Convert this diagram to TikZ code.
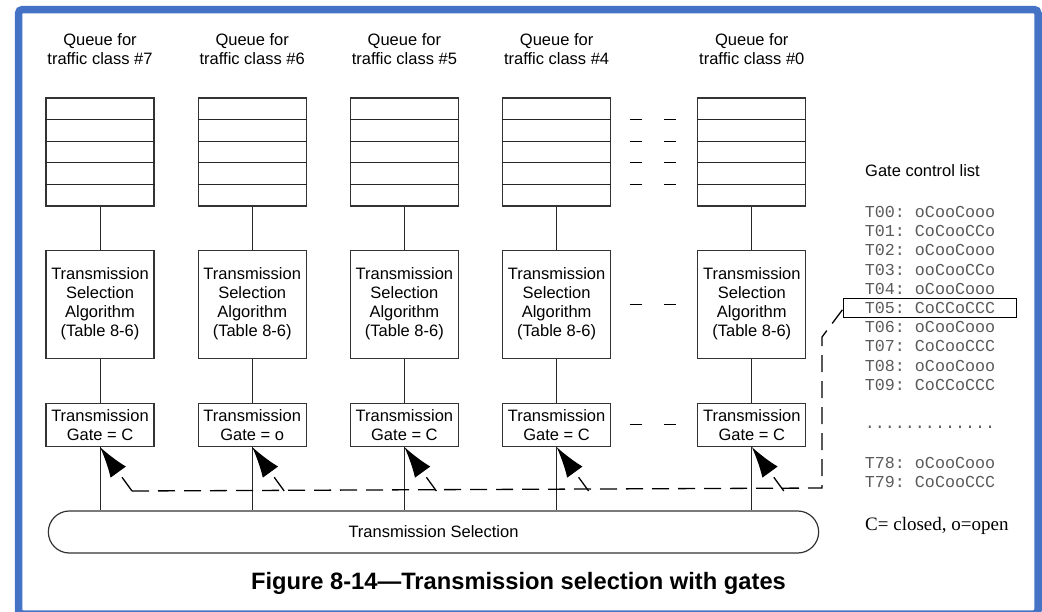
\documentclass[tikz,border=0pt]{standalone}
\usepackage{fontspec}
\setmainfont{Liberation Sans}
\setmonofont{Liberation Mono}
\newfontfamily\legendfont{Liberation Serif}
\usetikzlibrary{arrows.meta,positioning,calc,shapes.misc}
\definecolor{frameblue}{HTML}{4472C4}
\definecolor{listgray}{HTML}{5A5A5A}

\begin{document}
\begin{tikzpicture}[
    x=1pt, y=-1pt,
    node distance=43pt,
    font=\fontsize{16.5}{19}\selectfont,
    >={Latex[length=31pt,width=19pt]},
    box/.style={draw=black!80, line width=1.2pt, minimum width=108pt, inner sep=0pt, align=center},
    queue/.style={box, minimum height=108pt},
    algo/.style={box, minimum height=108pt},
    gatebox/.style={box, minimum height=43pt},
    title/.style={align=center, inner sep=0pt},
    link/.style={draw=black!85, line width=1pt},
    ctrl/.style={line width=1.3pt, dash pattern=on 17pt off 9pt},
    more/.style={line width=1pt, dash pattern=on 12pt off 22pt},
    gcl/.style={font=\ttfamily\fontsize{16.7}{19}\selectfont, text=listgray, minimum width=172pt, minimum height=18pt, inner sep=0pt}
]
    \useasboundingbox (0,0) rectangle (1042,611);
    \draw[frameblue, line width=7.5pt, rounded corners=4pt] (18.5,9.5) rectangle (1038,614);

    % Queues
    \node[queue] (q7) at (100,152) {};
    \node[queue, right=of q7] (q6) {};
    \node[queue, right=of q6] (q5) {};
    \node[queue, right=of q5] (q4) {};
    \node[queue, right=86pt of q4] (q0) {};

    % Columns
    \foreach \c/\s in {7/C,6/o,5/C,4/C,0/C} {
        \foreach \r in {1,...,4}
            \draw[link] ($(q\c.north west)!\r/5!(q\c.south west)$) -- ($(q\c.north east)!\r/5!(q\c.south east)$);
        \node[title, above=33pt of q\c] (t\c) {Queue for\\traffic class \#\c};
        \node[algo, below=43pt of q\c] (a\c) {Transmission\\Selection\\Algorithm\\(Table 8-6)};
        \node[gatebox, below=44pt of a\c] (g\c) {Transmission\\Gate = \s};
        \draw[link] (q\c) -- (a\c);
        \draw[link] (a\c) -- (g\c);
    }

    % Dots between #4 and #0
    \foreach \r in {1,...,4}
        \draw[more] ($(q4.north east)!\r/5!(q4.south east)+(19,0)$) -- ($(q0.north west)!\r/5!(q0.south west)+(-21,0)$);
    \draw[more] ($(a4.east)+(19,0)$) -- ($(a0.west)+(-21,0)$);
    \draw[more] ($(g4.east)+(19,0)$) -- ($(g0.west)+(-21,0)$);

    % Transmission selection
    \node[rounded rectangle, draw=black!80, line width=1.2pt, minimum width=777pt, minimum height=42pt] (sel) at (433.5,532) {Transmission Selection};
    \foreach \c in {7,6,5,4,0}
        \draw[link] (g\c.south) -- (g\c.south |- sel.north);

    % Gate control list
    \node[anchor=west, inner sep=0pt] (gcltitle) at (865,171) {Gate control list};
    \foreach \v [count=\i from 0] in {oCooCooo,CoCooCCo,oCooCooo,ooCooCCo,oCooCooo,CoCCoCCC,oCooCooo,CoCooCCC,oCooCooo,CoCCoCCC}
        \node[gcl] (l\i) at (930,{212+19.2*\i}) {T0\i: \v};
    \draw[line width=1pt] (l5.north west) rectangle (l5.south east);
    \node[gcl] (ldots) at (930,427) {.............};
    \node[gcl] (l78) at (930,463) {T78: oCooCooo};
    \node[gcl] (l79) at (930,482) {T79: CoCooCCC};
    \node[anchor=west, inner sep=0pt, font=\legendfont\fontsize{19}{22}\selectfont] (legend) at (865,526) {C= closed, o=open};

    % Gate control arrows
    \foreach \c in {7,6,5,4,0} {
        \coordinate (s\c) at ($(g\c.south)+(32,44)$);
        \draw[ctrl, ->] (s\c) -- (g\c.south);
    }
    \coordinate (turn) at (822,488);
    \coordinate (rise) at (822,337);
    \draw[ctrl] (s7) -- (turn) -- (rise) -- (l5.west);

    % Caption
    \node[font=\bfseries\fontsize{23.7}{28}\selectfont] (caption) at (518.5,583) {Figure 8-14—Transmission selection with gates};
\end{tikzpicture}
\end{document}
